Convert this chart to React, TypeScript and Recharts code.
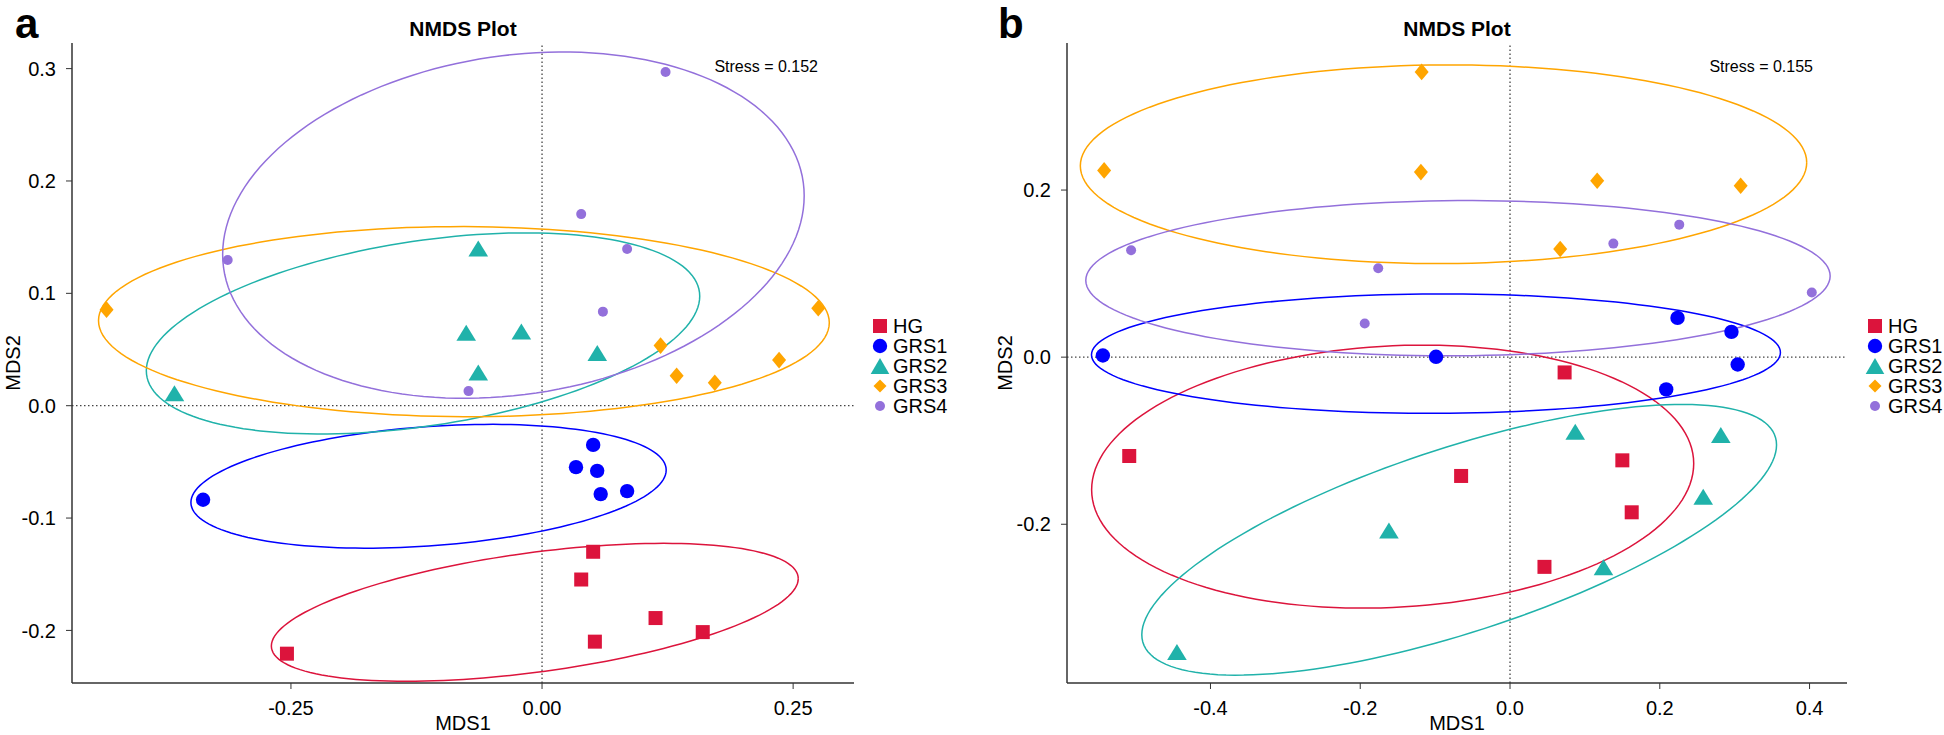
import { ScatterChart, Scatter, XAxis, YAxis, ReferenceLine } from 'recharts';

const FONT = '"Liberation Sans", Arial, Helvetica, sans-serif';

const groups = ['HG', 'GRS1', 'GRS2', 'GRS3', 'GRS4'];
const colors = ['#DC143C', '#0000FF', '#20B2AA', '#FFA500', '#9370DB'];

// panel a (MDS1, MDS2)
const aHG = [[0.0509, -0.13], [0.039, -0.1547], [0.113, -0.189], [0.16, -0.2015], [0.0526, -0.21], [-0.254, -0.2207]];
const aGRS1 = [[0.0509, -0.0349], [0.0338, -0.0547], [0.0549, -0.058], [0.0584, -0.0787], [0.0847, -0.076], [-0.3375, -0.0837]];
const aGRS2 = [[-0.0635, 0.14], [-0.0755, 0.065], [-0.0206, 0.066], [0.055, 0.047], [-0.0635, 0.0296], [-0.366, 0.011]];
const aGRS3 = [[-0.4336, 0.0855], [0.275, 0.0867], [0.118, 0.0535], [0.236, 0.0406], [0.134, 0.0266], [0.172, 0.0204]];
const aGRS4 = [[0.123, 0.297], [0.039, 0.1705], [0.0847, 0.1394], [-0.313, 0.1296], [0.0606, 0.0837], [-0.0732, 0.013]];
// ellipses: centre x, centre y, half width, half height, x offset of top point
const aEllipses = [
  [-0.0072, -0.1839, 0.2623, 0.0614, 0.128],
  [-0.113, -0.0717, 0.2366, 0.0551, 0.062],
  [-0.1185, 0.0643, 0.2755, 0.0895, 0.102],
  [-0.0778, 0.0748, 0.3638, 0.0846, -0.004],
  [-0.0285, 0.1607, 0.2895, 0.1541, 0.049],
];
const aXTicks = [-0.25, 0, 0.25];
const aYTicks = [-0.2, -0.1, 0, 0.1, 0.2, 0.3];

// panel b
const bHG = [[0.0729, -0.0183], [-0.5085, -0.1183], [-0.0653, -0.1422], [0.15, -0.1235], [0.1625, -0.1857], [0.046, -0.251]];
const bGRS1 = [[-0.5437, 0.002], [-0.0988, 0.0004], [0.2237, 0.047], [0.2957, 0.0303], [0.304, -0.0088], [0.2086, -0.0386]];
const bGRS2 = [[0.0871, -0.0892], [0.2815, -0.0932], [0.258, -0.167], [-0.1617, -0.2076], [0.1248, -0.2514], [-0.4448, -0.353]];
const bGRS3 = [[-0.118, 0.3414], [-0.542, 0.2235], [-0.119, 0.2215], [0.1164, 0.2112], [0.308, 0.2052], [0.067, 0.1295]];
const bGRS4 = [[-0.506, 0.1279], [-0.176, 0.1064], [0.226, 0.1586], [0.138, 0.1359], [0.403, 0.0773], [-0.194, 0.0402]];
const bEllipses = [
  [-0.1567, -0.143, 0.402, 0.1574, 0.04],
  [-0.0989, 0.0042, 0.46, 0.0715, 0.009],
  [-0.0679, -0.2186, 0.4238, 0.162, 0.297],
  [-0.0888, 0.2309, 0.485, 0.1189, 0.008],
  [-0.0695, 0.0945, 0.497, 0.0929, 0.014],
];
const bXTicks = [-0.4, -0.2, 0, 0.2, 0.4];
const bYTicks = [-0.2, 0, 0.2];

const toPts = (arr: number[][]) => arr.map(([x, y]) => ({ x, y }));

const ellipsePoints = ([cx, cy, w, h, dx]: number[]) => {
  const b = (dx * h) / w;
  const c = Math.sqrt(Math.max(h * h - b * b, 0));
  const pts = [];
  for (let i = 0; i <= 160; i++) {
    const t = (i / 160) * 2 * Math.PI;
    pts.push({ x: cx + w * Math.cos(t), y: cy + b * Math.cos(t) + c * Math.sin(t) });
  }
  return pts;
};

const Marker = ({ cx, cy, kind, color, legend }: any) => {
  if (kind === 0) return <rect x={cx - 7} y={cy - 7} width={14} height={14} fill={color} />;
  if (kind === 1) return <circle cx={cx} cy={cy} r={7.2} fill={color} />;
  if (kind === 2) {
    const hw = legend ? 9.3 : 9.8;
    return <polygon points={`${cx},${cy - 8} ${cx + hw},${cy + 8} ${cx - hw},${cy + 8}`} fill={color} />;
  }
  if (kind === 3) {
    const hw = legend ? 6.5 : 7;
    const hh = legend ? 6.5 : 8.3;
    return <polygon points={`${cx},${cy - hh} ${cx + hw},${cy} ${cx},${cy + hh} ${cx - hw},${cy}`} fill={color} />;
  }
  return <circle cx={cx} cy={cy} r={5} fill={color} />;
};

type PanelProps = {
  left: number;
  width: number;
  yAxisWidth: number;
  rightMargin: number;
  xDomain: number[];
  yDomain: number[];
  xTicks: number[];
  yTicks: number[];
  xDigits: number;
  series: number[][][];
  ellipses: number[][];
};

const Panel = (p: PanelProps) => {
  const tick = { fill: '#000', fontSize: 20, fontFamily: FONT };
  return (
    <div style={{ position: 'absolute', left: p.left, top: 0 }}>
      <ScatterChart width={p.width} height={735} margin={{ top: 43, right: p.rightMargin, bottom: 0, left: 0 }}>
        <XAxis
          dataKey="x"
          type="number"
          domain={p.xDomain}
          ticks={p.xTicks}
          allowDataOverflow
          height={52}
          tickSize={6}
          tickMargin={12}
          stroke="#333"
          axisLine={{ stroke: '#333', strokeWidth: 1.5 }}
          tick={tick}
          tickFormatter={(v: number) => v.toFixed(p.xDigits)}
        />
        <YAxis
          dataKey="y"
          type="number"
          domain={p.yDomain}
          ticks={p.yTicks}
          allowDataOverflow
          width={p.yAxisWidth}
          tickSize={6}
          tickMargin={10}
          stroke="#333"
          axisLine={{ stroke: '#333', strokeWidth: 1.5 }}
          tick={tick}
          tickFormatter={(v: number) => v.toFixed(1)}
        />
        <XAxis xAxisId="top" orientation="top" type="number" domain={p.xDomain} allowDataOverflow height={0} tick={false} tickLine={false} axisLine={{ stroke: '#888', strokeWidth: 1.5 }} />
        <YAxis yAxisId="right" orientation="right" type="number" domain={p.yDomain} allowDataOverflow width={0} tick={false} tickLine={false} axisLine={{ stroke: '#888', strokeWidth: 1.5 }} />
        <ReferenceLine x={0} stroke="#444" strokeWidth={1.3} strokeDasharray="1.5 2.5" />
        <ReferenceLine y={0} stroke="#444" strokeWidth={1.3} strokeDasharray="1.5 2.5" />
        {p.ellipses.map((e, i) => (
          <Scatter
            key={`e-${i}`}
            data={ellipsePoints(e)}
            fill={colors[i]}
            line={{ stroke: colors[i], strokeWidth: 1.5 }}
            lineType="joint"
            shape={() => <g />}
            isAnimationActive={false}
          />
        ))}
        {p.series.map((s, i) => (
          <Scatter
            key={groups[i]}
            name={groups[i]}
            data={toPts(s)}
            fill={colors[i]}
            shape={(props: any) => <Marker cx={props.cx} cy={props.cy} kind={i} color={colors[i]} />}
            isAnimationActive={false}
          />
        ))}
      </ScatterChart>
    </div>
  );
};

const Legend = ({ x, tx }: { x: number; tx: number }) => (
  <g>
    {groups.map((g, i) => {
      const cy = 326 + i * 20;
      return (
        <g key={g}>
          <Marker cx={x} cy={cy} kind={i} color={colors[i]} legend />
          <text x={tx} y={cy + 7} fontSize={20} fontFamily={FONT} fill="#000">
            {g}
          </text>
        </g>
      );
    })}
  </g>
);

export default function App() {
  return (
    <div style={{ position: 'absolute', left: 0, top: 0, width: 1944, height: 735, background: '#fff', overflow: 'hidden' }}>
      <Panel
        left={0}
        width={960}
        yAxisWidth={72}
        rightMargin={106}
        xDomain={[-0.468, 0.3106]}
        yDomain={[-0.2468, 0.3228]}
        xTicks={aXTicks}
        yTicks={aYTicks}
        xDigits={2}
        series={[aHG, aGRS1, aGRS2, aGRS3, aGRS4]}
        ellipses={aEllipses}
      />
      <Panel
        left={960}
        width={984}
        yAxisWidth={107}
        rightMargin={97}
        xDomain={[-0.5916, 0.45]}
        yDomain={[-0.39, 0.376]}
        xTicks={bXTicks}
        yTicks={bYTicks}
        xDigits={1}
        series={[bHG, bGRS1, bGRS2, bGRS3, bGRS4]}
        ellipses={bEllipses}
      />
      <svg width={1944} height={735} style={{ position: 'absolute', left: 0, top: 0, pointerEvents: 'none' }}>
        <text x={15} y={38} fontSize={42} fontWeight="bold" fontFamily={FONT}>a</text>
        <text x={998} y={38} fontSize={42} fontWeight="bold" fontFamily={FONT}>b</text>
        <text x={463} y={36} fontSize={21} fontWeight="bold" fontFamily={FONT} textAnchor="middle">NMDS Plot</text>
        <text x={1457} y={36} fontSize={21} fontWeight="bold" fontFamily={FONT} textAnchor="middle">NMDS Plot</text>
        <text x={818} y={72} fontSize={16} fontFamily={FONT} textAnchor="end">Stress = 0.152</text>
        <text x={1813} y={72} fontSize={16} fontFamily={FONT} textAnchor="end">Stress = 0.155</text>
        <text x={463} y={730} fontSize={20} fontFamily={FONT} textAnchor="middle">MDS1</text>
        <text x={1457} y={730} fontSize={20} fontFamily={FONT} textAnchor="middle">MDS1</text>
        <text x={20} y={363} fontSize={20} fontFamily={FONT} textAnchor="middle" transform="rotate(-90 20 363)">MDS2</text>
        <text x={1012} y={363} fontSize={20} fontFamily={FONT} textAnchor="middle" transform="rotate(-90 1012 363)">MDS2</text>
        <Legend x={880} tx={893} />
        <Legend x={1875} tx={1888} />
      </svg>
    </div>
  );
}
